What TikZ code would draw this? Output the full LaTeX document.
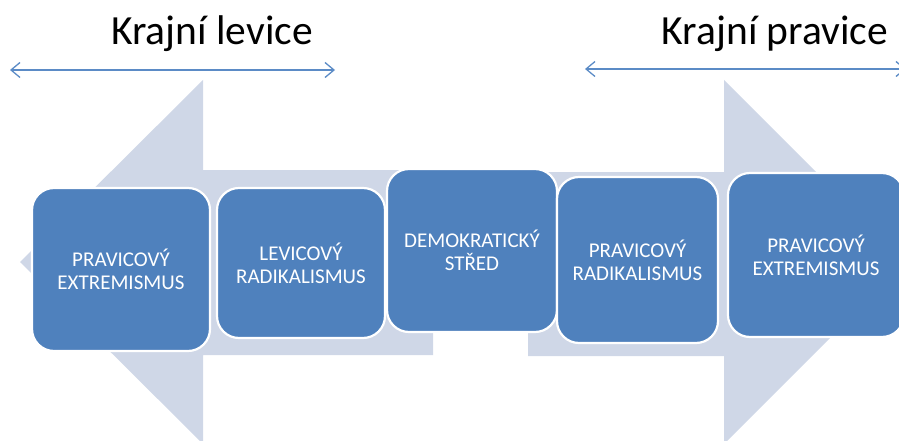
\documentclass[tikz,border=0pt]{standalone}
\usepackage{fontspec}
\setmainfont{Carlito}
\usetikzlibrary{arrows.meta}
\definecolor{boxblue}{HTML}{4F81BD}
\definecolor{arrowgray}{HTML}{CFD7E7}
\definecolor{linkblue}{HTML}{5B8BC6}
\tikzset{
  ebox/.style={draw=white, line width=2.2pt, fill=boxblue, rounded corners=22pt,
    text=white, align=center, inner sep=0pt,
    font=\fontsize{21}{23}\selectfont},
  bigarrow/.style={fill=arrowgray, draw=none},
  headline/.style={font=\fontsize{41.5}{45}\selectfont, text=black, anchor=base},
  span/.style={draw=linkblue, line width=1.3pt, {Straight Barb[length=9pt,width=15pt,line width=1.3pt]}-{Straight Barb[length=9pt,width=15pt,line width=1.3pt]}}
}
\begin{document}
\begin{tikzpicture}[x=1pt,y=-1pt]
\useasboundingbox (0,0) rectangle (899,441);
\clip (0,0) rectangle (899,441);
% background arrows
\fill[bigarrow] (20,262) -- (203,80) -- (203,170) -- (433,170) -- (433,355) -- (203,355) -- (203,444) -- cycle;
\fill[bigarrow] (906,262) -- (724,80) -- (724,172) -- (528,172) -- (528,356) -- (724,356) -- (724,444) -- cycle;
% headings
\node[headline] (tl) at (212,45) {Krajní levice};
\node[headline] (tr) at (775,45) {Krajní pravice};
% span arrows
\coordinate (l1) at (10,70);
\coordinate (l2) at (335,70);
\coordinate (r1) at (585,69);
\coordinate (r2) at (906,69);
\draw[span] (l1) -- (l2);
\draw[span] (r1) -- (r2);
% boxes
\node[ebox, minimum width=178pt, minimum height=163pt] (b1) at (121,269.5) {PRAVICOVÝ\\EXTREMISMUS};
\node[ebox, minimum width=168pt, minimum height=150pt] (b2) at (301,263) {LEVICOVÝ\\RADIKALISMUS};
\node[ebox, minimum width=170pt, minimum height=163pt] (b3) at (472,250.5) {DEMOKRATICKÝ\\STŘED};
\node[ebox, minimum width=161pt, minimum height=166pt] (b4) at (637.5,260) {PRAVICOVÝ\\RADIKALISMUS};
\node[ebox, minimum width=176pt, minimum height=164pt] (b5) at (816,255) {PRAVICOVÝ\\EXTREMISMUS};
\end{tikzpicture}
\end{document}
